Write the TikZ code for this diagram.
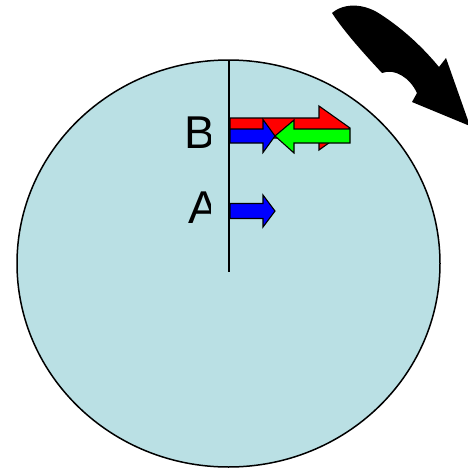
\documentclass[tikz,border=0pt]{standalone}
\usepackage{fontspec}
\setmainfont{Liberation Sans}
\usepackage{xcolor}
\usepackage{tikz}
\definecolor{disc}{RGB}{186,224,228}
\definecolor{velred}{RGB}{255,0,0}
\definecolor{velblue}{RGB}{0,0,255}
\definecolor{velgreen}{RGB}{0,255,0}

\begin{document}
\begin{tikzpicture}[x=1pt,y=-1pt,
  blk/.style={draw=black,line width=1.1pt,line join=miter,fill=#1},
  lbl/.style={font=\fontsize{46}{46}\selectfont,inner sep=0pt,anchor=base west},
  ]
  \useasboundingbox (0,0) rectangle (468,469);

  % ---- rotating disc with radial line ----
  \draw[line width=1.5pt,fill=disc] (228.5,263.5) ellipse [x radius=211.5,y radius=203.5];
  \coordinate (rim) at (229,60);
  \coordinate (hub) at (229,272);
  \draw[line width=2pt] (rim) -- (hub);

  % ---- labels (text box cuts them on the right) ----
  \begin{scope}
    \clip (150,90) rectangle (210,240);
    \node[lbl] (ptB) at (184.5,148) {B};
    \node[lbl] (ptA) at (188,223) {A};
  \end{scope}

  % ---- velocity arrows at B ----
  \draw[blk=velred]   (230,118) -- (319,118) -- (319,106) -- (350,128) -- (319,150) -- (319,138) -- (230,138) -- cycle;
  \draw[blk=velblue]  (230,129) -- (263,129) -- (263,119.5) -- (275,136) -- (263,152.5) -- (263,143) -- (230,143) -- cycle;
  \draw[blk=velgreen] (350,129) -- (294,129) -- (294,120) -- (275,136) -- (294,153) -- (294,143) -- (350,143) -- cycle;

  % ---- velocity arrow at A ----
  \draw[blk=velblue]  (230,203.5) -- (263,203.5) -- (263,195) -- (275,211) -- (263,227) -- (263,218.5) -- (230,218.5) -- cycle;

  % sense of rotation
  \fill[black] (332,13) .. controls (345,2) and (365,4) .. (380,14)
        .. controls (405,30) and (425,50) .. (439,67) -- (446,58) -- (470,126)
        -- (412,102) -- (417,93) .. controls (410,78) and (395,68) .. (382,73)
        .. controls (368,58) and (345,33) .. (332,13) -- cycle;
\end{tikzpicture}
\end{document}
